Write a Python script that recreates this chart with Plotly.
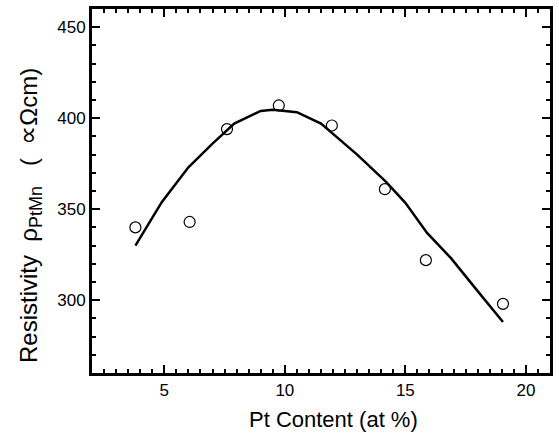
import plotly.graph_objects as go

# Measured data points
pt_content = [3.8, 6.05, 7.6, 9.75, 11.95, 14.15, 15.85, 19.05]
resistivity = [340, 343, 394, 407, 396, 361, 322, 298]

# Fitted curve
fit_x = [3.8, 4.9, 6.0, 7.0, 7.9, 9.0, 9.5, 10.5, 11.5, 12.2, 13.0, 14.2, 15.0, 15.9, 16.9, 18.0, 19.05]
fit_y = [330, 354, 373, 386, 397, 404, 404.7, 403.3, 397, 389, 380, 365, 353.5, 337, 323, 305, 288]

x_ticks = [5, 10, 15, 20]
y_ticks = [300, 350, 400, 450]
x_range = [2, 21]
y_range = [260, 460]

FONT = "Liberation Sans, Arial, sans-serif"

fig = go.Figure()
fig.add_trace(go.Scatter(x=fit_x, y=fit_y, mode="lines",
                         line=dict(color="black", width=2.5), showlegend=False))
fig.add_trace(go.Scatter(x=pt_content, y=resistivity, mode="markers",
                         marker=dict(symbol="circle-open", size=11, color="black",
                                     line=dict(width=1.2, color="black")),
                         showlegend=False))

major = dict(showline=True, linewidth=3, linecolor="black", mirror="allticks",
             ticks="inside", ticklen=8, tickwidth=1.5, tickcolor="black",
             showgrid=False, zeroline=False,
             tickfont=dict(family=FONT, size=17, color="black"))

fig.update_layout(
    width=559, height=434,
    margin=dict(l=92, r=6, t=7, b=61),
    plot_bgcolor="white", paper_bgcolor="white",
    xaxis=dict(range=x_range, tickvals=x_ticks,
               minor=dict(ticks="inside", ticklen=4, tickwidth=1.5, tickcolor="black",
                          dtick=0.5, tick0=0, showgrid=False),
               **major),
    yaxis=dict(range=y_range, tickvals=y_ticks,
               minor=dict(ticks="inside", ticklen=4, tickwidth=1.5, tickcolor="black",
                          dtick=10, tick0=0, showgrid=False),
               **major),
    annotations=[
        dict(text="Pt Content (at %)", xref="paper", yref="paper", x=0.5, y=0,
             yshift=-46, xshift=12, showarrow=False, yanchor="middle",
             font=dict(family=FONT, size=22, color="black")),
        dict(text="Resistivity  ρ<sub><span style='font-size:18px'>PtMn</span></sub>   (  <span style='font-size:27px'>∝</span>Ωcm)",
             xref="paper", yref="paper",
             x=0, y=0.5, xshift=-63, yshift=-25, textangle=-90, showarrow=False,
             xanchor="center", yanchor="middle",
             font=dict(family=FONT, size=24, color="black")),
    ],
)

fig.write_html("out.html")
